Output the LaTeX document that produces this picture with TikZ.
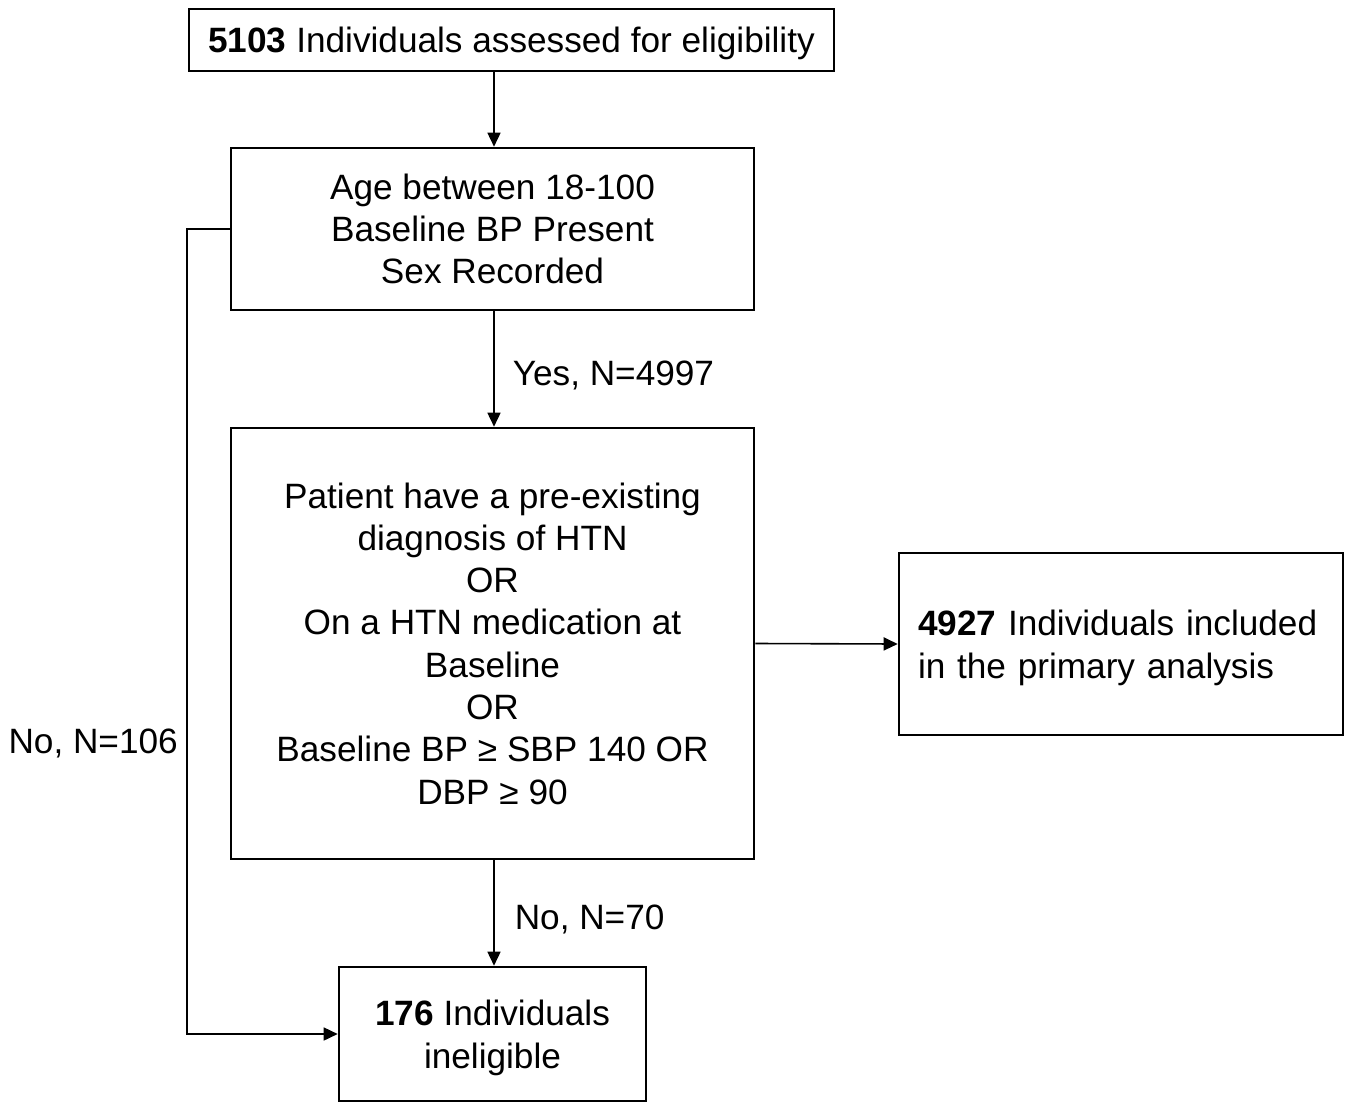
\documentclass[tikz,border=0pt]{standalone}
\usepackage{fontspec}
\setmainfont{Liberation Sans}
\usetikzlibrary{arrows.meta}
\newcommand{\dstrut}{\rule{0pt}{33pt}}
\begin{document}
\begin{tikzpicture}[x=1pt,y=-1pt,
  box/.style={draw=black,line width=2.6pt,align=center,inner sep=0pt,
    font=\fontsize{35.2}{42.3}\selectfont},
  arr/.style={line width=1.6pt,-{Triangle[length=14pt,width=13pt]}},
  lbl/.style={font=\fontsize{35.2}{42.3}\selectfont,inner sep=0pt}]
\useasboundingbox (0,0) rectangle (1349,1102);
\node[box,minimum width=645,minimum height=62] (top) at (511.5,40) {\dstrut\textbf{5103} Individuals assessed for eligibility};
\node[box,minimum width=523,minimum height=162] (crit) at (492.5,229) {Age between 18-100\\Baseline BP Present\\Sex Recorded};
\node[box,minimum width=523,minimum height=431] (htn) at (492.5,643.5) {Patient have a pre-existing\\diagnosis of HTN\\OR\\On a HTN medication at\\Baseline\\OR\\Baseline BP ≥ SBP 140 OR\\DBP ≥ 90};
\node[box,minimum width=444,minimum height=182,align=left,text width=406,inner xsep=19pt] (inc) at (1121,644) {\dstrut\textbf{4927} Individuals included\\in the primary analysis};
\node[box,minimum width=307,minimum height=134] (inel) at (492.5,1034) {\dstrut\textbf{176} Individuals\\ineligible};
\coordinate (c1) at (187,229);
\coordinate (c2) at (187,1034);
\draw[arr] (top.south -| 494,0) -- (crit.north -| 494,0);
\draw[arr] (crit.south -| 494,0) -- node[lbl,anchor=west,xshift=18pt,yshift=-6pt] (yes) {Yes, N=4997} (htn.north -| 494,0);
\draw[arr] (htn.south -| 494,0) -- node[lbl,anchor=west,xshift=20pt,yshift=-6pt] (no70) {No, N=70} (inel.north -| 494,0);
\draw[arr] (htn.east) -- (inc.west);
\draw[arr] (crit.west) -- (c1) -- (c2) -- (inel.west);
\node[lbl,anchor=east] (no106) at (178,743) {No, N=106};
\end{tikzpicture}
\end{document}
